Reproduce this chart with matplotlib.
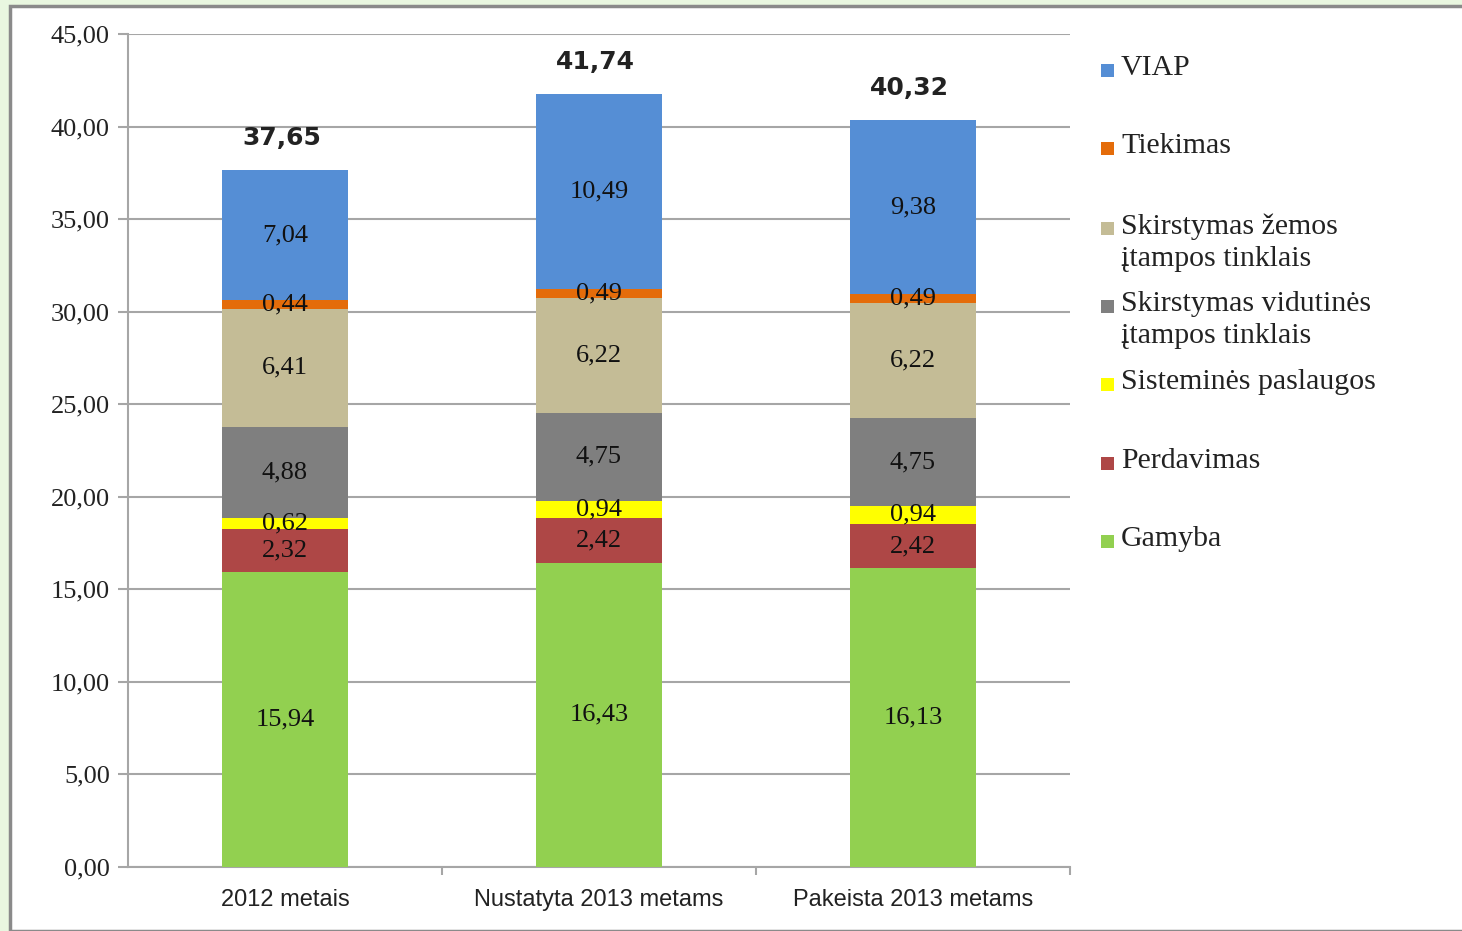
import matplotlib
matplotlib.use("Agg")
import matplotlib.pyplot as plt
from matplotlib.patches import Rectangle
import numpy as np

categories = ["2012 metais", "Nustatyta 2013 metams", "Pakeista 2013 metams"]
series_names = ["Gamyba", "Perdavimas", "Sisteminės paslaugos",
                "Skirstymas vidutinės\nįtampos tinklais",
                "Skirstymas žemos\nįtampos tinklais", "Tiekimas", "VIAP"]
gamyba = [15.94, 16.43, 16.13]
perdavimas = [2.32, 2.42, 2.42]
sistemines = [0.62, 0.94, 0.94]
skirst_vid = [4.88, 4.75, 4.75]
skirst_zem = [6.41, 6.22, 6.22]
tiekimas = [0.44, 0.49, 0.49]
viap = [7.04, 10.49, 9.38]
totals = [37.65, 41.74, 40.32]
yticks = [0, 5, 10, 15, 20, 25, 30, 35, 40, 45]

series = [gamyba, perdavimas, sistemines, skirst_vid, skirst_zem, tiekimas, viap]
colors = ["#92D050", "#AE4746", "#FFFF00", "#7F7F7F", "#C4BC96", "#E46C0A", "#558ED5"]

W, H = 1462, 931
fig = plt.figure(figsize=(W / 100, H / 100), dpi=100, facecolor="#E9F7E0")
# white panel with gray border
fig.patches.append(Rectangle((10 / W, 0), 1.0, 1 - 6 / H, transform=fig.transFigure,
                             facecolor="white", edgecolor="#8A8A8A", linewidth=2.5, zorder=-5))

ax = fig.add_axes([128 / W, 1 - 867 / H, (1070 - 128) / W, (867 - 34) / H])
ax.set_zorder(2)
ax.set_facecolor("none")
x = np.arange(len(categories))
bottom = np.zeros(len(categories))
serif = "Liberation Serif"
for vals, col in zip(series, colors):
    vals = np.array(vals)
    ax.bar(x, vals, width=0.4, bottom=bottom, color=col, zorder=3)
    for xi, b, v in zip(x, bottom, vals):
        ax.text(xi, b + v / 2, f"{v:.2f}".replace(".", ","), ha="center", va="center",
                fontsize=19, family=serif, color="#111111", zorder=4)
    bottom = bottom + vals

for xi, t, b in zip(x, totals, bottom):
    ax.text(xi - 0.01, b + 1.1, f"{t:.2f}".replace(".", ","), ha="center", va="bottom",
            fontsize=18, fontweight="bold", family="DejaVu Sans", color="#222222")

ax.set_xlim(-0.5, 2.5)
ax.set_ylim(0, 45)
ax.set_yticks(yticks)
ax.set_yticklabels([f"{v:.2f}".replace(".", ",") for v in yticks], family=serif, fontsize=19)
ax.grid(axis="y", color="#A6A6A6", linewidth=1.5, zorder=0)
ax.set_axisbelow(True)
for s in ["top", "right"]:
    ax.spines[s].set_visible(False)
for s in ["left", "bottom"]:
    ax.spines[s].set_color("#A6A6A6")
    ax.spines[s].set_linewidth(1.5)
ax.tick_params(axis="y", length=7, color="#A6A6A6", width=1.5, pad=6, labelcolor="#222222")
ax.set_xticks(x)
ax.set_xticklabels(categories, family="Liberation Sans", fontsize=17)
ax.tick_params(axis="x", length=0, pad=16, labelcolor="#222222")
ax.set_xticks([0.5, 1.5, 2.5], minor=True)
ax.tick_params(axis="x", which="minor", length=6, color="#A6A6A6", width=1.5)

# legend (drawn manually, top to bottom)
leg_y = [70, 148, 228, 306, 384, 463, 541]
for name, col, yy in zip(series_names[::-1], colors[::-1], leg_y):
    fig.patches.append(Rectangle((1101 / W, 1 - (yy + 7) / H), 13 / W, 13 / H,
                                 transform=fig.transFigure, facecolor=col, edgecolor="none"))
    fig.text(1121 / W, 1 - (yy - 15) / H, name, ha="left", va="top", family=serif,
             fontsize=21.5, color="#222222", linespacing=1.3)

fig.savefig("out.png", dpi=100, facecolor=fig.get_facecolor())
